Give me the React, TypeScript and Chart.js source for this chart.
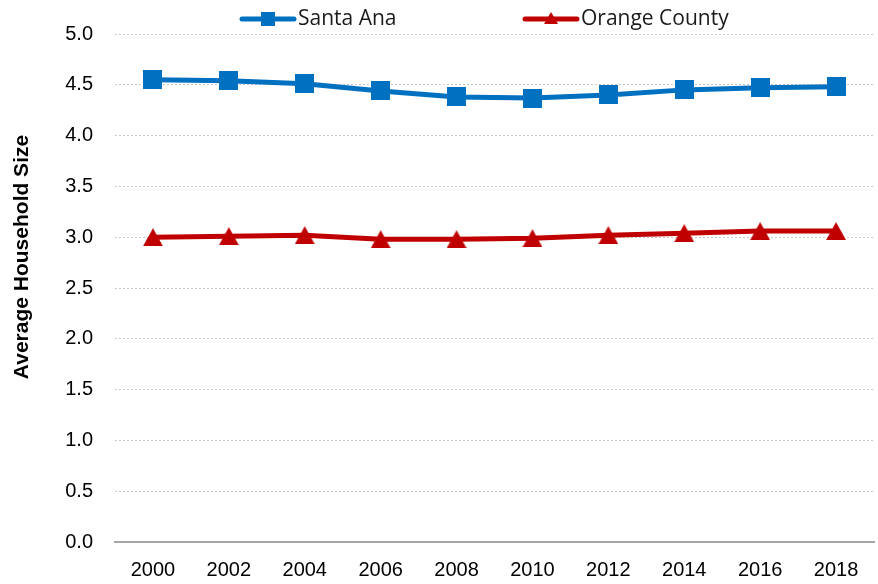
import React, { useEffect, useRef } from "react";
import { Chart, registerables } from "chart.js";

Chart.register(...registerables);

const years = ["2000", "2002", "2004", "2006", "2008", "2010", "2012", "2014", "2016", "2018"];
const santaAna = [4.55, 4.54, 4.51, 4.44, 4.38, 4.37, 4.40, 4.45, 4.47, 4.48];
const orangeCounty = [3.0, 3.01, 3.02, 2.98, 2.98, 2.99, 3.02, 3.04, 3.06, 3.06];
const seriesNames = ["Santa Ana", "Orange County"];
const yTitle = "Average Household Size";

const BLUE = "#0070C0";
const RED = "#C00000";

function makeSquare(size: number, color: string) {
  const c = document.createElement("canvas");
  c.width = size;
  c.height = size;
  const g = c.getContext("2d")!;
  g.fillStyle = color;
  g.fillRect(0, 0, size, size);
  return c;
}

function makeTriangle(w: number, h: number, color: string) {
  const c = document.createElement("canvas");
  c.width = w;
  c.height = h;
  const g = c.getContext("2d")!;
  g.fillStyle = color;
  g.beginPath();
  g.moveTo(w / 2, 0);
  g.lineTo(w, h);
  g.lineTo(0, h);
  g.closePath();
  g.fill();
  return c;
}

const SANS = "'Liberation Sans', Arial, sans-serif";

export default function App() {
  const ref = useRef<HTMLCanvasElement>(null);

  useEffect(() => {
    const square = makeSquare(19, BLUE);
    const tri = makeTriangle(20, 18, RED);

    const overlay = {
      id: "overlay",
      afterDraw(chart: any) {
        const ctx = chart.ctx;
        const ca = chart.chartArea;
        ctx.save();
        ctx.translate(22, 257);
        ctx.rotate(-Math.PI / 2);
        ctx.font = "bold 21px " + SANS;
        ctx.fillStyle = "#000";
        ctx.textAlign = "center";
        ctx.textBaseline = "middle";
        ctx.fillText(yTitle, 0, 0);
        ctx.restore();

        const items = [
          { x: ca.left + 125, color: BLUE, kind: "sq", text: seriesNames[0] },
          { x: ca.left + 408, color: RED, kind: "tri", text: seriesNames[1] },
        ];
        const ly = 19;
        ctx.save();
        for (const it of items) {
          ctx.strokeStyle = it.color;
          ctx.lineWidth = 5;
          ctx.lineCap = "round";
          ctx.beginPath();
          ctx.moveTo(it.x + 2, ly);
          ctx.lineTo(it.x + 54, ly);
          ctx.stroke();
          ctx.fillStyle = it.color;
          const cx = it.x + 28;
          if (it.kind === "sq") {
            ctx.fillRect(cx - 7, ly - 7, 14, 14);
          } else {
            ctx.beginPath();
            ctx.moveTo(cx, ly - 7);
            ctx.lineTo(cx + 7, ly + 5);
            ctx.lineTo(cx - 7, ly + 5);
            ctx.closePath();
            ctx.fill();
          }
          ctx.fillStyle = "#1a1a1a";
          ctx.font = "21px 'Open Sans', 'Noto Sans', sans-serif";
          ctx.textAlign = "left";
          ctx.textBaseline = "middle";
          ctx.fillText(it.text, it.x + 58, ly);
        }
        ctx.restore();
      },
    };

    const chart = new Chart(ref.current!, {
      type: "line",
      data: {
        labels: years,
        datasets: [
          {
            label: seriesNames[0],
            data: santaAna,
            borderColor: BLUE,
            backgroundColor: BLUE,
            borderWidth: 5,
            pointStyle: square as any,
            pointRadius: 10,
            tension: 0,
          },
          {
            label: seriesNames[1],
            data: orangeCounty,
            borderColor: RED,
            backgroundColor: RED,
            borderWidth: 5,
            pointStyle: tri as any,
            pointRadius: 10,
            tension: 0,
          },
        ],
      },
      options: {
        animation: false,
        responsive: false,
        layout: { autoPadding: false, padding: { top: 34, right: 4, left: 0, bottom: 0 } },
        plugins: {
          legend: { display: false },
          tooltip: { enabled: false },
        },
        scales: {
          x: {
            offset: true,
            grid: { display: false, drawTicks: false },
            border: { display: true, color: "#a6a6a6", width: 2 },
            ticks: {
              color: "#000",
              font: { family: SANS, size: 20 },
              padding: 16,
              maxRotation: 0,
            },
            afterFit: (s: any) => {
              s.height = 42;
              s.paddingLeft = 0;
              s.paddingRight = 0;
            },
          },
          y: {
            min: 0,
            max: 5,
            grid: { color: "#c8c8c8", lineWidth: 1, drawTicks: false },
            border: { display: false, dash: [2, 2] },
            ticks: {
              stepSize: 0.5,
              color: "#000",
              font: { family: SANS, size: 20 },
              padding: 22,
              callback: (v: any) => Number(v).toFixed(1),
            },
            afterFit: (s: any) => {
              s.width = 115;
              s.paddingTop = 0;
              s.paddingBottom = 0;
            },
          },
        },
      },
      plugins: [overlay],
    });
    return () => chart.destroy();
  }, []);

  return (
    <div style={{ position: "fixed", left: 0, top: 0, width: 878, height: 584, background: "#fff" }}>
      <canvas ref={ref} width={878} height={584} style={{ display: "block" }} />
    </div>
  );
}
